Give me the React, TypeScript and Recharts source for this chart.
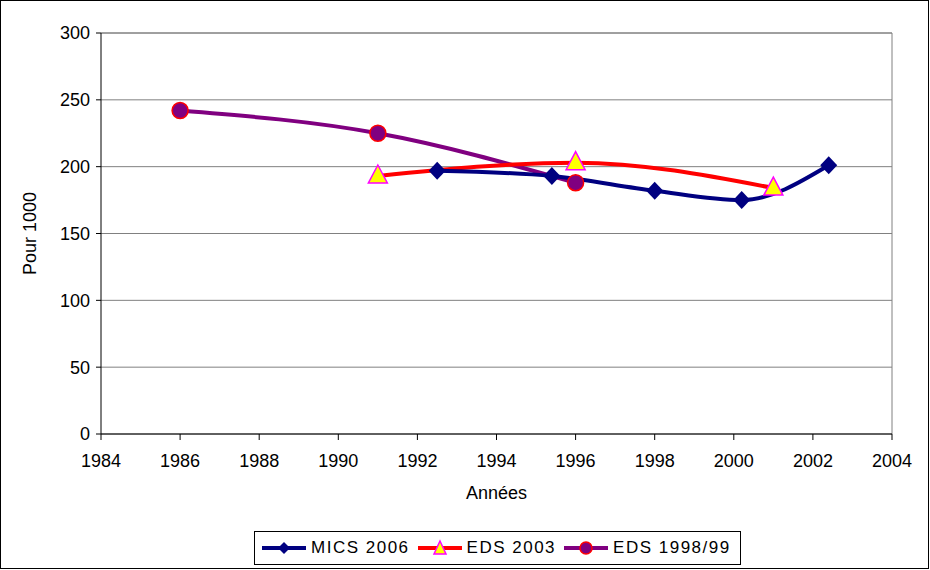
import React from "react";
import { LineChart, Line, XAxis, YAxis, CartesianGrid, ReferenceLine } from "recharts";

// Years of each survey point and rates (pour 1000)
const micsYears = [1992.5, 1995.4, 1998.0, 2000.2, 2002.4];
const micsValues = [197, 193, 182, 175, 201];

const eds2003Years = [1991, 1996, 2001];
const eds2003Values = [193, 203, 184];

const eds1998Years = [1986, 1991, 1996];
const eds1998Values = [242, 225, 188];

const xTicks = [1984, 1986, 1988, 1990, 1992, 1994, 1996, 1998, 2000, 2002, 2004];
const yTicks = [0, 50, 100, 150, 200, 250, 300];

const toRows = (years: number[], values: number[]) =>
  years.map((year, i) => ({ year, value: values[i] }));

const micsData = toRows(micsYears, micsValues);
const eds2003Data = toRows(eds2003Years, eds2003Values);
const eds1998Data = toRows(eds1998Years, eds1998Values);

const FONT = "'Liberation Sans', Arial, sans-serif";
const NAVY = "#000080";
const RED = "#ff0000";
const PURPLE = "#800080";

const Diamond = (props: any) => {
  const { cx, cy, key } = props;
  if (cx == null || cy == null) return null;
  return (
    <path
      key={key}
      d={`M${cx},${cy - 9} L${cx + 8.5},${cy} L${cx},${cy + 9} L${cx - 8.5},${cy} Z`}
      fill={NAVY}
    />
  );
};

const Triangle = (props: any) => {
  const { cx, cy, key } = props;
  if (cx == null || cy == null) return null;
  return (
    <path
      key={key}
      d={`M${cx},${cy - 11} L${cx + 9.5},${cy + 7} L${cx - 9.5},${cy + 7} Z`}
      fill="#ffff00"
      stroke="#ff00ff"
      strokeWidth={1.5}
    />
  );
};

const Circle = (props: any) => {
  const { cx, cy, key } = props;
  if (cx == null || cy == null) return null;
  return <circle key={key} cx={cx} cy={cy} r={8} fill={PURPLE} stroke={RED} strokeWidth={1.5} />;
};

const LegendItem = ({ color, marker, label }: { color: string; marker: React.ReactNode; label: string }) => (
  <div style={{ display: "flex", alignItems: "center", marginRight: 6 }}>
    <svg width={48} height={20}>
      <line x1={2} y1={10} x2={46} y2={10} stroke={color} strokeWidth={4} />
      {marker}
    </svg>
    <span style={{ marginLeft: 3 }}>{label}</span>
  </div>
);

export default function App() {
  return (
    <div style={{ position: "absolute", left: 0, top: 0, width: 930, height: 570, background: "#fff", fontFamily: FONT }}>
      <LineChart width={930} height={570} margin={{ top: 33, right: 38, left: 0, bottom: 66 }}>
        <CartesianGrid horizontal vertical={false} stroke="#808080" strokeDasharray="" />
        <ReferenceLine x={2004} stroke="#808080" />
        <ReferenceLine y={300} stroke="#808080" />
        <XAxis
          type="number"
          dataKey="year"
          domain={[1984, 2004]}
          ticks={xTicks}
          allowDuplicatedCategory={false}
          height={70}
          stroke="#000"
          tickSize={6}
          tickMargin={14}
          tick={{ fill: "#000", fontSize: 18, fontFamily: FONT }}
          label={{ value: "Années", position: "insideTop", offset: 52, fill: "#000", fontSize: 18, fontFamily: FONT }}
        />
        <YAxis
          type="number"
          domain={[0, 300]}
          ticks={yTicks}
          width={101}
          stroke="#000"
          tickSize={5}
          tickMargin={6}
          tick={{ fill: "#000", fontSize: 18, fontFamily: FONT }}
          label={{ value: "Pour 1000", angle: -90, position: "center", dx: -21, fill: "#000", fontSize: 18, fontFamily: FONT }}
        />
        <Line
          data={eds1998Data}
          dataKey="value"
          type="monotone"
          stroke={PURPLE}
          strokeWidth={4}
          dot={Circle}
          activeDot={false}
          isAnimationActive={false}
        />
        <Line
          data={eds2003Data}
          dataKey="value"
          type="monotone"
          stroke={RED}
          strokeWidth={4}
          dot={Triangle}
          activeDot={false}
          isAnimationActive={false}
        />
        <Line
          data={micsData}
          dataKey="value"
          type="monotone"
          stroke={NAVY}
          strokeWidth={4}
          dot={Diamond}
          activeDot={false}
          isAnimationActive={false}
        />
      </LineChart>
      <div
        style={{
          position: "absolute",
          left: 254,
          top: 531,
          width: 487,
          height: 34,
          boxSizing: "border-box",
          border: "1px solid #000",
          display: "flex",
          alignItems: "center",
          paddingLeft: 5,
          fontSize: 17,
          letterSpacing: 1.5,
        }}
      >
        <LegendItem
          color={NAVY}
          label="MICS 2006"
          marker={<path d="M24,4 L30,10 L24,16 L18,10 Z" fill={NAVY} />}
        />
        <LegendItem
          color={RED}
          label="EDS 2003"
          marker={<path d="M24,3 L30,16 L18,16 Z" fill="#ffff00" stroke="#ff00ff" strokeWidth={1.5} />}
        />
        <LegendItem
          color={PURPLE}
          label="EDS 1998/99"
          marker={<circle cx={24} cy={10} r={6} fill={PURPLE} stroke={RED} strokeWidth={1.5} />}
        />
      </div>
      <div
        style={{
          position: "absolute",
          left: 0,
          top: 0,
          width: 929,
          height: 569,
          border: "1px solid #000",
          boxSizing: "border-box",
          pointerEvents: "none",
        }}
      />
    </div>
  );
}
